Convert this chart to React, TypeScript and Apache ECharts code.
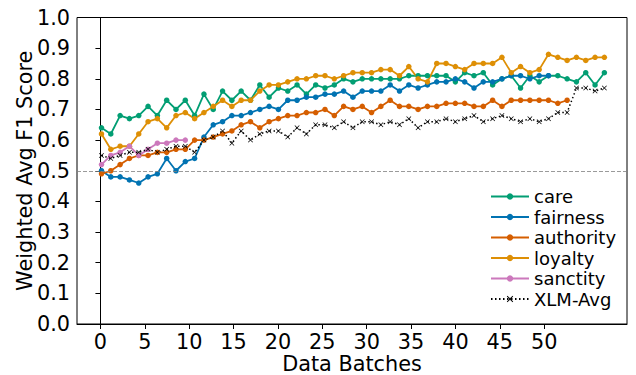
import React, { useEffect, useRef } from "react";
import * as echarts from "echarts";

const seriesNames = ["care", "fairness", "authority", "loyalty", "sanctity", "XLM-Avg"];
const seriesColors = ["#029e73", "#0173b2", "#d55e00", "#de8f05", "#cc78bc", "#000000"];

const care = [
  0.64, 0.62, 0.68, 0.67, 0.68, 0.71, 0.68, 0.73, 0.70, 0.73,
  0.68, 0.75, 0.70, 0.76, 0.73, 0.76, 0.73, 0.78, 0.74, 0.77,
  0.76, 0.78, 0.75, 0.78, 0.77, 0.78, 0.80, 0.79, 0.80, 0.80,
  0.80, 0.80, 0.80, 0.81, 0.81, 0.81, 0.81, 0.81, 0.79, 0.82,
  0.81, 0.82, 0.78, 0.80, 0.81, 0.77, 0.81, 0.79, 0.81, 0.81,
  0.80, 0.79, 0.82, 0.78, 0.82,
];
const fairness = [
  0.50, 0.48, 0.48, 0.47, 0.46, 0.48, 0.49, 0.54, 0.50, 0.53,
  0.54, 0.61, 0.65, 0.66, 0.68, 0.68, 0.69, 0.70, 0.71, 0.70,
  0.73, 0.73, 0.74, 0.74, 0.75, 0.75, 0.76, 0.74, 0.76, 0.76,
  0.76, 0.78, 0.76, 0.78, 0.77, 0.78, 0.79, 0.79, 0.80, 0.79,
  0.77, 0.79, 0.79, 0.80, 0.81, 0.81, 0.80, 0.81, 0.81,
];
const authority = [
  0.49, 0.50, 0.52, 0.54, 0.55, 0.55, 0.56, 0.56, 0.57, 0.57,
  0.60, 0.60, 0.61, 0.62, 0.63, 0.65, 0.66, 0.64, 0.66, 0.67,
  0.68, 0.68, 0.69, 0.69, 0.70, 0.68, 0.71, 0.70, 0.71, 0.69,
  0.71, 0.73, 0.71, 0.71, 0.70, 0.71, 0.71, 0.72, 0.72, 0.72,
  0.71, 0.71, 0.73, 0.71, 0.73, 0.73, 0.73, 0.73, 0.73, 0.72,
  0.73,
];
const loyalty = [
  0.62, 0.57, 0.58, 0.58, 0.62, 0.66, 0.67, 0.64, 0.68, 0.69,
  0.67, 0.69, 0.71, 0.73, 0.71, 0.73, 0.73, 0.76, 0.78, 0.78,
  0.79, 0.80, 0.80, 0.81, 0.81, 0.80, 0.81, 0.82, 0.82, 0.82,
  0.83, 0.83, 0.81, 0.84, 0.80, 0.79, 0.85, 0.85, 0.84, 0.83,
  0.85, 0.85, 0.85, 0.87, 0.82, 0.84, 0.82, 0.83, 0.88, 0.87,
  0.86, 0.87, 0.86, 0.87, 0.87,
];
const sanctity = [0.52, 0.55, 0.56, 0.58, 0.55, 0.57, 0.59, 0.59, 0.60, 0.60];
const xlmAvg = [
  0.55, 0.54, 0.55, 0.56, 0.56, 0.57, 0.56, 0.57, 0.58, 0.58,
  0.56, 0.60, 0.61, 0.63, 0.59, 0.63, 0.60, 0.62, 0.63, 0.63,
  0.61, 0.64, 0.62, 0.65, 0.65, 0.64, 0.66, 0.64, 0.66, 0.66,
  0.65, 0.66, 0.65, 0.67, 0.64, 0.66, 0.66, 0.67, 0.66, 0.67,
  0.68, 0.66, 0.67, 0.68, 0.67, 0.66, 0.67, 0.66, 0.67, 0.69,
  0.69, 0.77, 0.77, 0.76, 0.77,
];
const xTickLabels = [0, 5, 10, 15, 20, 25, 30, 35, 40, 45, 50];
const referenceLine = 0.5;

const FONT = "DejaVu Sans";
const FS = 20.8;
const LEGEND_FS = 18;

export default function App() {
  const ref = useRef<HTMLDivElement>(null);
  useEffect(() => {
    const chart = echarts.init(ref.current!, null, { renderer: "svg" });
    const allData = [care, fairness, authority, loyalty, sanctity, xlmAvg];
    const xMark = "path://M0,1 L1,0 L5,4 L9,0 L10,1 L6,5 L10,9 L9,10 L5,6 L1,10 L0,9 L4,5 Z";
    const series: any[] = allData.map((arr, k) => {
      const isAvg = seriesNames[k] === "XLM-Avg";
      const s: any = {
        name: seriesNames[k],
        type: "line",
        xAxisIndex: 1,
        data: arr.map((v, i) => [i, v]),
        symbol: isAvg ? xMark : "circle",
        symbolSize: isAvg ? 5 : 5.5,
        showSymbol: true,
        color: seriesColors[k],
        itemStyle: { color: seriesColors[k] },
        lineStyle: {
          color: seriesColors[k],
          width: isAvg ? 1.5 : 1.8,
          type: isAvg ? [1.5, 2.5] : "solid",
        },
        emphasis: { disabled: true },
      };
      if (k === 0) {
        s.markLine = {
          silent: true,
          symbol: ["none", "none"],
          label: { show: false },
          lineStyle: { color: "#808080", width: 0.8, type: [4, 2] },
          data: [{ yAxis: referenceLine }],
        };
      }
      return s;
    });

    const option: any = {
      animation: false,
      textStyle: { fontFamily: FONT },
      grid: {
        left: 77,
        right: 9,
        top: 17.5,
        bottom: 51,
        show: true,
        borderColor: "#000",
        borderWidth: 1,
        outerBoundsMode: "none",
        containLabel: false,
      },
      legend: {
        orient: "vertical",
        left: 490,
        top: 186.5,
        padding: 0,
        itemWidth: 38,
        itemHeight: 8,
        itemGap: 0.5,
        data: seriesNames,
        textStyle: { fontFamily: FONT, fontSize: LEGEND_FS, color: "#000", lineHeight: 20 },
      },
      xAxis: [
        {
          type: "value",
          min: -2.64,
          max: 59.33,
          position: "bottom",
          name: "Data Batches",
          nameLocation: "middle",
          nameGap: 31,
          nameMoveOverlap: false,
          nameTextStyle: { fontFamily: FONT, fontSize: FS, color: "#000", lineHeight: 18 },
          axisLine: { show: true, lineStyle: { color: "#000", width: 1 } },
          axisTick: {
            show: true,
            inside: false,
            length: 5,
            customValues: xTickLabels,
            lineStyle: { color: "#000", width: 1 },
          },
          axisLabel: {
            show: true,
            customValues: xTickLabels,
            margin: 8.5,
            fontFamily: FONT,
            fontSize: FS,
            lineHeight: 18,
            color: "#000",
          },
          splitLine: { show: false },
        },
        {
          type: "value",
          show: false,
          min: -2.63,
          max: 56.43,
          position: "bottom",
        },
      ],
      yAxis: {
        type: "value",
        min: 0,
        max: 1,
        interval: 0.1,
        name: "Weighted Avg F1 Score",
        nameLocation: "middle",
        nameGap: 41.5,
        nameMoveOverlap: false,
        nameTextStyle: { fontFamily: FONT, fontSize: FS, color: "#000" },
        axisLine: { show: true, lineStyle: { color: "#000", width: 1 } },
        axisTick: { show: true, inside: false, length: 5, lineStyle: { color: "#000", width: 1 } },
        axisLabel: {
          margin: 7,
          fontFamily: FONT,
          fontSize: FS,
          color: "#000",
          formatter: (v: number) => v.toFixed(1),
        },
        splitLine: { show: false },
      },
      series,
    };
    chart.setOption(option);
    return () => chart.dispose();
  }, []);
  return (
    <div
      ref={ref}
      style={{ position: "fixed", left: 0, top: 0, width: 636, height: 375, background: "#fff" }}
    />
  );
}
